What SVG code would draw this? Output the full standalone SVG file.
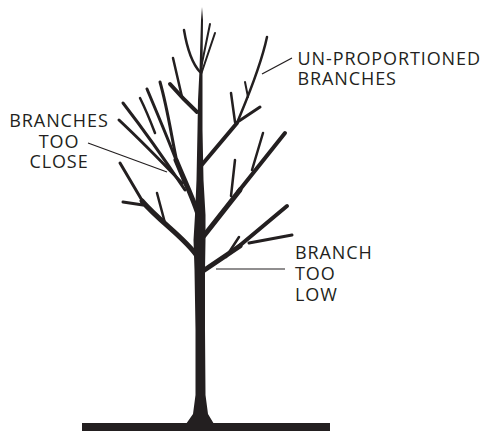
<svg xmlns="http://www.w3.org/2000/svg" width="494" height="431" viewBox="0 0 494 431">
<style>
.b{fill:none;stroke:#231f20;stroke-linecap:round;stroke-linejoin:round}
.w5{stroke-width:5}.w4{stroke-width:4}.w3{stroke-width:3}.w25{stroke-width:2.5}.w2{stroke-width:2}
.lead{fill:none;stroke:#231f20;stroke-width:1.2}
.t{font-family:"Open Sans","Liberation Sans",sans-serif;font-size:18px;fill:#231f20;letter-spacing:0.9px}
</style>
<rect width="494" height="431" fill="#fff"/>
<g id="ground"><rect x="82" y="423" width="248" height="8" fill="#231f20"/></g>
<g id="tree">
<path fill="#231f20" d="M199.5,70 L201,20 L202,7 L203,20 L202.5,70 L202.5,100 L202.5,130 L203.5,180 L205.5,215 L205.5,240 L205,270 L205,330 L205.5,395 L208,414 L214,424 L186,424 L193,414 L195.5,395 L195.5,330 L194.5,270 L193.5,240 L195,215 L196.5,180 L197.5,130 L198,100 Z"/>
<path class="b w25" d="M200,72 Q189,60 184,30"/>
<path class="b w2" d="M201,68 L210,24"/>
<path class="b w2" d="M201.5,73 L215,33"/>
<path class="b w4" d="M197,112 Q183,99 170,84"/>
<path class="b w25" d="M182,97 L173,58"/>
<path class="b w4" d="M200,167 L237,123"/>
<path class="b w3" d="M236,123 L260,107"/>
<path class="b w25" d="M237,123 C243,108 260,70 267,37"/>
<path class="b w25" d="M235,122 L231,93"/>
<path class="b w2" d="M248,97 L245,82"/>
<path class="b w5" d="M203,237 L240,190"/>
<path class="b w4" d="M238,192 L285,133"/>
<path class="b w25" d="M231,196 L235,160"/>
<path class="b w25" d="M252,170 L263,133"/>
<path class="b w5" d="M203,271 L240,246"/>
<path class="b w4" d="M238,247 L287,206"/>
<path class="b w3" d="M249,243 L292,235"/>
<path class="b w25" d="M226,257 L239,237"/>
<path class="b w5" d="M197,256 C185,238 160,222 142,201"/>
<path class="b w3" d="M143,202 L120,163"/>
<path class="b w3" d="M143,205 L123,202"/>
<path class="b w25" d="M165,223 L157,193"/>
<path class="b w5" d="M198,214 C192,196 185,182 176,160"/>
<path class="b w3" d="M177,162 C172,140 168,110 160,82"/>
<path class="b w3" d="M185,190 C165,160 140,125 123,103"/>
<path class="b w3" d="M182,183 C160,160 135,135 119,120"/>
<path class="b w3" d="M185,184 C175,155 160,120 147,89"/>
<path class="b w25" d="M155,133 C150,120 145,108 140,98"/>
</g>
<g id="connectors">
<line class="lead" x1="88" y1="143" x2="167" y2="172"/>
<line class="lead" x1="262" y1="74" x2="292" y2="58"/>
<line class="lead" x1="216" y1="269" x2="285" y2="269"/>
</g>
<g id="label-close">
<text class="t" x="59" y="127" text-anchor="middle">BRANCHES</text>
<text class="t" x="59" y="147.5" text-anchor="middle">TOO</text>
<text class="t" x="59" y="168" text-anchor="middle">CLOSE</text>
</g>
<g id="label-unprop">
<text class="t" x="297.5" y="65">UN-PROPORTIONED</text>
<text class="t" x="297.5" y="85">BRANCHES</text>
</g>
<g id="label-low">
<text class="t" x="295" y="259">BRANCH</text>
<text class="t" x="295" y="280">TOO</text>
<text class="t" x="295" y="301">LOW</text>
</g>
</svg>
